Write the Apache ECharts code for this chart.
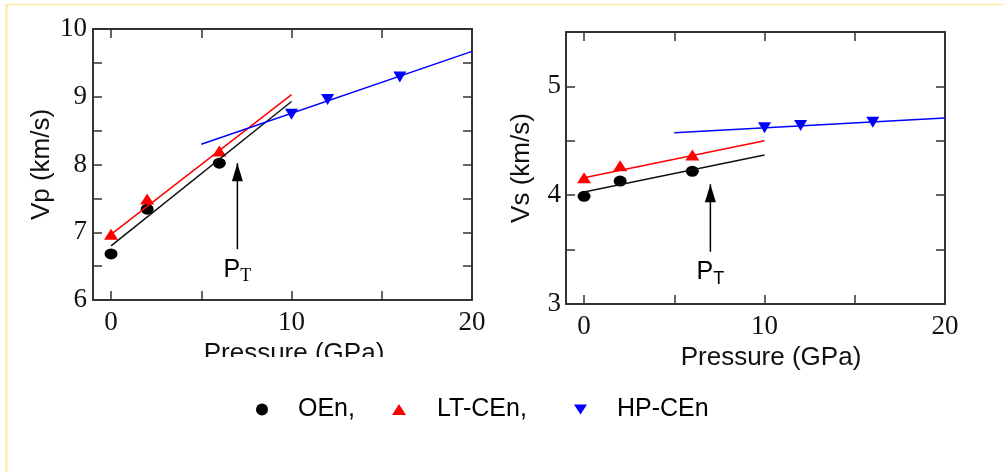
<!DOCTYPE html>
<html>
<head>
<meta charset="utf-8">
<script src="https://cdn.jsdelivr.net/npm/echarts@6/dist/echarts.min.js"></script>
<style>html,body{margin:0;padding:0;background:#fff;}#c{width:1004px;height:472px;}</style>
</head>
<body>
<div id="c"></div>
<script>
// ---- data ----
const lowPressure = [0, 2, 6];          // OEn and LT-CEn pressures (GPa)
const highPressure = [10, 12, 16];      // HP-CEn pressures (GPa)
const vpOEn = [6.68, 7.34, 8.02];
const vpLT = [6.97, 7.49, 8.20];
const vpHP = [8.74, 8.96, 9.29];
const vsOEn = [3.99, 4.13, 4.22];
const vsLT = [4.16, 4.27, 4.37];
const vsHP = [4.62, 4.64, 4.67];
const fitLowP = [0, 10];
const fitHighP = [5, 20];
const vpOEnFit = [6.80, 8.93];
const vpLTFit = [6.97, 9.03];
const vpHPFit = [8.30, 9.67];
const vsOEnFit = [4.03, 4.37];
const vsLTFit = [4.16, 4.50];
const vsHPFit = [4.575, 4.71];
const arrowP = 7;
const vpArrow = [6.75, 8.02];
const vsArrow = [3.48, 4.10];
const xTicks = [0, 5, 10, 15, 20];
const xTickLabels = [0, 10, 20];
const seriesNames = ['OEn', 'LT-CEn', 'HP-CEn'];
const legendTexts = ['OEn,', 'LT-CEn,', 'HP-CEn'];

const zip = (xs, ys) => xs.map((x, i) => [x, ys[i]]);
const downTri = 'path://M0,0L10,0L5,8Z';
const AX = '#333';
const serif = '"Liberation Serif", "Times New Roman", serif';
const sans = '"Liberation Sans", Arial, sans-serif';

function xAxes(grid, nameGap, padLeft) {
  return [{
    type: 'value', gridIndex: grid, min: -1, max: 20, position: 'bottom',
    name: 'Pressure (GPa)', nameLocation: 'middle', nameGap: nameGap,
    nameTextStyle: { fontFamily: sans, fontSize: 26, color: '#111', padding: [0, 0, 0, padLeft] },
    axisLine: { show: true, onZero: false, lineStyle: { color: AX, width: 2 } },
    axisTick: { show: true, inside: true, length: 9, customValues: xTicks, lineStyle: { color: AX, width: 1.5 } },
    axisLabel: { customValues: xTickLabels, fontFamily: serif, fontSize: 27, color: '#111', margin: 9 },
    splitLine: { show: false }
  }, {
    type: 'value', gridIndex: grid, min: -1, max: 20, position: 'top',
    axisLine: { show: true, onZero: false, lineStyle: { color: AX, width: 2 } },
    axisTick: { show: true, inside: true, length: 9, customValues: xTicks, lineStyle: { color: AX, width: 1.5 } },
    axisLabel: { show: false }, splitLine: { show: false }
  }];
}
function yAxes(grid, min, max, name, nameGap, margin) {
  return [{
    type: 'value', gridIndex: grid, min: min, max: max, interval: 0.5, position: 'left',
    name: name, nameLocation: 'middle', nameGap: nameGap, nameRotate: 90,
    nameTextStyle: { fontFamily: sans, fontSize: 26, color: '#111' },
    axisLine: { show: true, onZero: false, lineStyle: { color: AX, width: 2 } },
    axisTick: { show: true, inside: true, length: 9, lineStyle: { color: AX, width: 1.5 } },
    axisLabel: { fontFamily: serif, fontSize: 27, color: '#111', margin: margin,
      formatter: v => (Math.abs(v - Math.round(v)) < 1e-9 ? String(Math.round(v)) : '') },
    splitLine: { show: false }
  }, {
    type: 'value', gridIndex: grid, min: min, max: max, interval: 0.5, position: 'right',
    axisLine: { show: true, onZero: false, lineStyle: { color: AX, width: 2 } },
    axisTick: { show: true, inside: true, length: 9, lineStyle: { color: AX, width: 1.5 } },
    axisLabel: { show: false }, splitLine: { show: false }
  }];
}

function panel(grid, oen, lt, hp, oenFit, ltFit, hpFit, arrow, tFont) {
  const xi = grid * 2, yi = grid * 2;
  const lineBase = { type: 'line', xAxisIndex: xi, yAxisIndex: yi, showSymbol: false, symbol: 'none', silent: true, animation: false };
  return [
    Object.assign({}, lineBase, { name: 'OEn fit', data: zip(fitLowP, oenFit), lineStyle: { color: '#111', width: 1.5 } }),
    Object.assign({}, lineBase, { name: 'LT fit', data: zip(fitLowP, ltFit), lineStyle: { color: '#ff0000', width: 1.5 } }),
    Object.assign({}, lineBase, { name: 'HP fit', data: zip(fitHighP, hpFit), lineStyle: { color: '#0000ff', width: 1.5 } }),
    Object.assign({}, lineBase, { name: 'arrow', data: zip([arrowP, arrowP], arrow), lineStyle: { color: '#000', width: 1.5 } }),
    { type: 'scatter', name: 'arrowhead', xAxisIndex: xi, yAxisIndex: yi, silent: true, animation: false,
      data: [[arrowP, arrow[1]]], symbol: 'triangle', symbolSize: [11, 18], symbolKeepAspect: false,
      symbolOffset: [0, '50%'], itemStyle: { color: '#000', opacity: 1 } },
    { type: 'scatter', name: 'PT', xAxisIndex: xi, yAxisIndex: yi, silent: true, animation: false,
      data: [[arrowP, arrow[0]]], symbolSize: 0, itemStyle: { opacity: 1 },
      label: { show: true, position: 'bottom', distance: 8, formatter: '{p|P}{t|T}',
        rich: {
          p: { fontFamily: sans, fontSize: 25, lineHeight: 26, color: '#000', verticalAlign: 'top' },
          t: { fontFamily: tFont, fontSize: 18, lineHeight: 18, color: '#000', verticalAlign: 'top', padding: [10, 0, 0, 0] }
        } } },
    { type: 'scatter', name: seriesNames[0], xAxisIndex: xi, yAxisIndex: yi, animation: false,
      data: zip(lowPressure, oen), symbol: 'circle', symbolSize: [13, 11], symbolKeepAspect: false, itemStyle: { color: '#000', opacity: 1 } },
    { type: 'scatter', name: seriesNames[1], xAxisIndex: xi, yAxisIndex: yi, animation: false,
      data: zip(lowPressure, lt), symbol: 'triangle', symbolSize: [14, 11], symbolKeepAspect: false, itemStyle: { color: '#ff0000', opacity: 1 } },
    { type: 'scatter', name: seriesNames[2], xAxisIndex: xi, yAxisIndex: yi, animation: false,
      data: zip(highPressure, hp), symbol: downTri, symbolSize: [13, 11], symbolKeepAspect: false, itemStyle: { color: '#0000ff', opacity: 1 } }
  ];
}

function legendItem(i, left, icon, w, h, pad, color) {
  return {
    show: true, left: left, top: 397, padding: 0, orient: 'horizontal',
    itemWidth: w, itemHeight: h, symbolKeepAspect: false, selectedMode: false,
    data: [{ name: seriesNames[i], icon: icon, itemStyle: { color: color, opacity: 1 } }],
    formatter: () => legendTexts[i],
    textStyle: { fontFamily: sans, fontSize: 25, color: '#000', padding: [0, 0, 0, pad] }
  };
}

const chart = echarts.init(document.getElementById('c'), null, { renderer: 'canvas' });
chart.setOption({
  backgroundColor: '#fff',
  animation: false,
  grid: [
    { left: 93, top: 29, width: 379, height: 271 },
    { left: 566, top: 32, width: 379, height: 272 }
  ],
  xAxis: [].concat(xAxes(0, 31, 23), xAxes(1, 29, 31)),
  yAxis: [].concat(yAxes(0, 6, 10, 'Vp (km/s)', 38, 6), yAxes(1, 3, 5.5, 'Vs (km/s)', 31, 5)),
  legend: [
    legendItem(0, 256, 'circle', 12, 12, 25, '#000'),
    legendItem(1, 392, 'triangle', 14, 11, 26, '#ff0000'),
    legendItem(2, 574, downTri, 13, 10, 25, '#0000ff')
  ],
  series: [].concat(
    panel(0, vpOEn, vpLT, vpHP, vpOEnFit, vpLTFit, vpHPFit, vpArrow, serif),
    panel(1, vsOEn, vsLT, vsHP, vsOEnFit, vsLTFit, vsHPFit, vsArrow, sans)
  ),
  graphic: [
    { type: 'line', silent: true, shape: { x1: 6, y1: 4.5, x2: 1004, y2: 4.5 }, style: { stroke: '#fde7a3', lineWidth: 1.5 } },
    { type: 'line', silent: true, shape: { x1: 6.5, y1: 4, x2: 6.5, y2: 472 }, style: { stroke: '#fde7a3', lineWidth: 2 } },
    { type: 'rect', silent: true, z: 100, shape: { x: 150, y: 357, width: 300, height: 20 }, style: { fill: '#fff' } }
  ]
});
</script>
</body>
</html>
